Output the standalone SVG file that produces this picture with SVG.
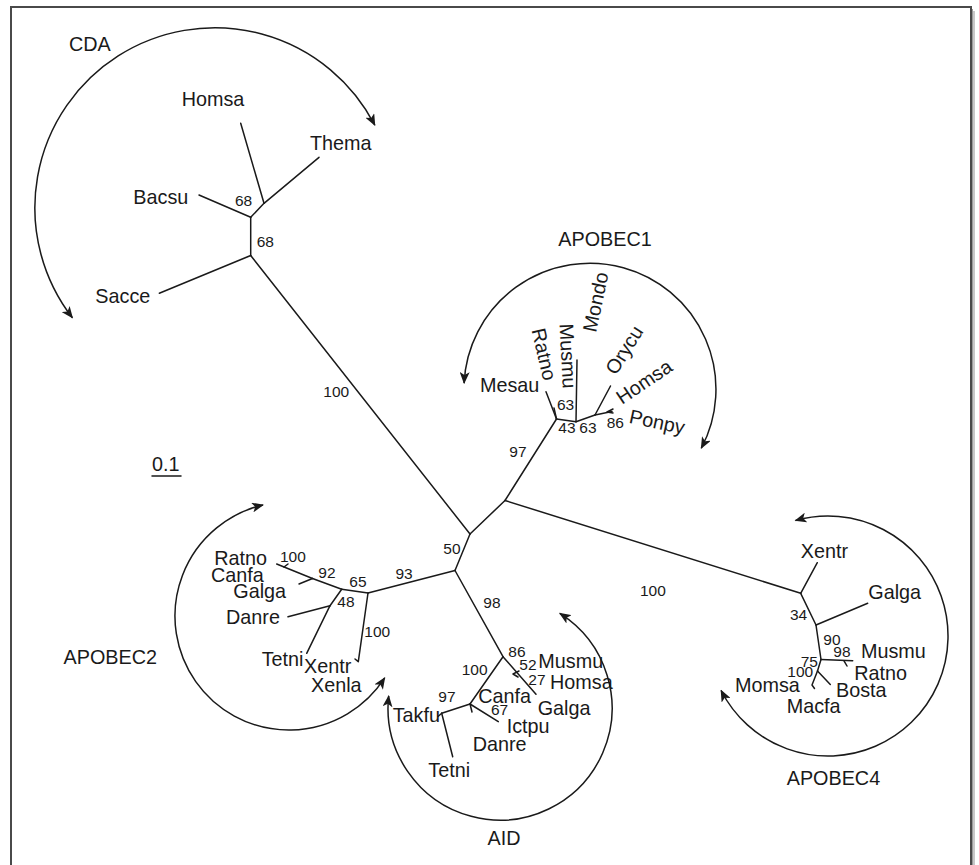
<svg xmlns="http://www.w3.org/2000/svg" width="979" height="865" viewBox="0 0 979 865">
<defs>
<marker id="ah" viewBox="0 0 12 10" refX="11" refY="5" markerWidth="12" markerHeight="10" markerUnits="userSpaceOnUse" orient="auto-start-reverse">
<path d="M0,0 L12,5 L0,10 L3,5 z" fill="#1a1a1a"/>
</marker>
<style>
.br{stroke:#1a1a1a;stroke-width:1.5;fill:none;stroke-linecap:round;stroke-linejoin:round}
.arc{stroke:#1a1a1a;stroke-width:1.5;fill:none;marker-start:url(#ah);marker-end:url(#ah)}
text{font-family:"Liberation Sans",Arial,sans-serif;fill:#1a1a1a}
.lf{font-size:19.8px}
.cl{font-size:19.8px}
.bs{font-size:15.5px}
</style>
</defs>
<rect x="0" y="0" width="979" height="865" fill="#ffffff"/>
<rect x="15" y="11" width="960" height="870" fill="#c8c8c8"/>
<rect x="13" y="9" width="960" height="870" fill="#9a9a9a"/>
<rect x="11" y="7" width="960" height="870" fill="#ffffff" stroke="#4a4a4a" stroke-width="2"/>

<g id="connectors">
<g id="branches" class="br">
<!-- CDA -->
<path d="M250.7,255.5 L470,534"/>
<path d="M250.7,255.5 L250.7,217.3"/>
<path d="M250.7,255.5 L159.3,293.3"/>
<path d="M250.7,217.3 L264,203.3"/>
<path d="M250.7,217.3 L199,195"/>
<path d="M264,203.3 L240.7,123.3"/>
<path d="M264,203.3 L319,157.3"/>
<!-- centre -->
<path d="M470,534 L505,500.5"/>
<path d="M470,534 L455,570.5"/>
<path d="M505,500.5 L556.5,419"/>
<path d="M505,500.5 L800.7,593.3"/>
<path d="M455,570.5 L368,593"/>
<path d="M455,570.5 L503,656.7"/>
<!-- APOBEC1 -->
<path d="M556.5,419 L546,391.7"/>
<path d="M556.5,419 L554,408"/>
<path d="M556.5,419 L576,421.7"/>
<path d="M576,421.7 L577,360"/>
<path d="M576,421.7 L595,415"/>
<path d="M595,415 L610.5,386"/>
<path d="M595,415 L612,411.5"/>
<path d="M607,412 L613,409 M607,412 L613,413"/>
<!-- APOBEC2 -->
<path d="M368,593 L341.7,589.3"/>
<path d="M368,593 L358.3,661.7 L355,659"/>
<path d="M341.7,589.3 L312.5,578.5"/>
<path d="M312.5,578.5 L276.7,564"/>
<path d="M284,567 L288,564"/>
<path d="M312.5,578.5 L299,584"/>
<path d="M341.7,589.3 L330,605.7"/>
<path d="M330,605.7 L288,616.7"/>
<path d="M330,605.7 L306.7,653.3"/>
<!-- AID -->
<path d="M503,656.7 L536,694.3"/>
<path d="M519,671 L513,674 L518,677"/>
<path d="M503,656.7 L470,704"/>
<path d="M470,704 L441.7,713.3"/>
<path d="M441.7,713.3 L452.7,756.7"/>
<path d="M441.7,713.3 L438,716.5"/>
<path d="M470,704 L498.3,721.7"/>
<path d="M470,704 L472,712"/>
<!-- APOBEC4 -->
<path d="M800.7,593.3 L817.3,562.7"/>
<path d="M800.7,593.3 L816,625"/>
<path d="M816,625 L867.7,603.3"/>
<path d="M816,625 L821,659.5"/>
<path d="M821,659.5 L852.7,660.7"/>
<path d="M844,660.8 L847,666"/>
<path d="M821,659.5 L817.5,671"/>
<path d="M817.5,671 L830.3,684.5"/>
<path d="M817.5,671 L812,685 L814.5,688.5"/>
</g>
<g id="arcs" class="arc">
<path d="M374.8,125.2 A180,180 0 1 0 72.4,317.8"/>
<path d="M464.1,383.1 A126,126 0 1 1 701.3,448.2"/>
<path d="M263,505 A114,114 0 1 0 384.7,677.9"/>
<path d="M388.7,695.9 A112,112 0 1 0 559.8,613.4"/>
<path d="M795.5,520.5 A120,120 0 1 1 721.1,690.5"/>
</g>
</g>

<g id="scale">
<text class="lf" x="152" y="471">0.1</text>
<path class="br" d="M152,476 L181,476"/>
</g>

<g id="clade-CDA">
<text class="cl" x="69" y="50.5">CDA</text>
<g id="cda-homsa"><text class="lf" x="181.7" y="106">Homsa</text></g>
<g id="cda-thema"><text class="lf" x="310" y="150">Thema</text></g>
<g id="cda-bacsu"><text class="lf" x="133.3" y="204">Bacsu</text></g>
<g id="cda-sacce"><text class="lf" x="95.3" y="302.5">Sacce</text></g>
<text class="bs" x="235" y="206">68</text>
<text class="bs" x="256.7" y="246.5">68</text>
</g>

<g id="clade-APOBEC1">
<text class="cl" x="558.3" y="246">APOBEC1</text>
<g id="a1-mesau"><text class="lf" x="480" y="391.7">Mesau</text></g>
<g id="a1-ratno"><text class="lf" transform="translate(531.5,330) rotate(77)">Ratno</text></g>
<g id="a1-musmu"><text class="lf" transform="translate(559.5,324) rotate(87)">Musmu</text></g>
<g id="a1-mondo"><text class="lf" transform="translate(596,333) rotate(-78)">Mondo</text></g>
<g id="a1-orycu"><text class="lf" transform="translate(616,376) rotate(-58)">Orycu</text></g>
<g id="a1-homsa"><text class="lf" transform="translate(622,405) rotate(-34)">Homsa</text></g>
<g id="a1-ponpy"><text class="lf" transform="translate(628.3,422.7) rotate(12)">Ponpy</text></g>
<text class="bs" x="557" y="409.5">63</text>
<text class="bs" x="558.3" y="433.3">43</text>
<text class="bs" x="579.3" y="433.3">63</text>
<text class="bs" x="606.7" y="428.3">86</text>
<text class="bs" x="509.3" y="456.7">97</text>
</g>

<g id="centre-labels">
<text class="bs" x="323.3" y="396.7">100</text>
<text class="bs" x="443.3" y="554">50</text>
<text class="bs" x="395.5" y="579">93</text>
<text class="bs" x="483.3" y="608.3">98</text>
<text class="bs" x="640" y="596">100</text>
</g>

<g id="clade-APOBEC2">
<text class="cl" x="157" y="664" text-anchor="end">APOBEC2</text>
<g id="a2-ratno"><text class="lf" x="214.3" y="565">Ratno</text></g>
<g id="a2-canfa"><text class="lf" x="211" y="581.7">Canfa</text></g>
<g id="a2-galga"><text class="lf" x="233.3" y="598.3">Galga</text></g>
<g id="a2-danre"><text class="lf" x="226" y="624">Danre</text></g>
<g id="a2-tetni"><text class="lf" x="261.7" y="666">Tetni</text></g>
<g id="a2-xentr"><text class="lf" x="304" y="673.3">Xentr</text></g>
<g id="a2-xenla"><text class="lf" x="311" y="691.7">Xenla</text></g>
<text class="bs" x="280" y="561.7">100</text>
<text class="bs" x="318.3" y="578.3">92</text>
<text class="bs" x="349.3" y="586.7">65</text>
<text class="bs" x="337.3" y="606.7">48</text>
<text class="bs" x="364.3" y="636.7">100</text>
</g>

<g id="clade-AID">
<text class="cl" x="487.5" y="845">AID</text>
<g id="aid-musmu"><text class="lf" x="538.3" y="668.3">Musmu</text></g>
<g id="aid-homsa"><text class="lf" x="550" y="689.3">Homsa</text></g>
<g id="aid-canfa"><text class="lf" x="478.3" y="702.7">Canfa</text></g>
<g id="aid-galga"><text class="lf" x="537.7" y="715">Galga</text></g>
<g id="aid-takfu"><text class="lf" x="392.7" y="721.7">Takfu</text></g>
<g id="aid-ictpu"><text class="lf" x="506.7" y="733.3">Ictpu</text></g>
<g id="aid-danre"><text class="lf" x="472.7" y="750.7">Danre</text></g>
<g id="aid-tetni"><text class="lf" x="428.3" y="776.7">Tetni</text></g>
<text class="bs" x="508.3" y="656.7">86</text>
<text class="bs" x="519.3" y="670">52</text>
<text class="bs" x="528.3" y="685">27</text>
<text class="bs" x="461.7" y="675">100</text>
<text class="bs" x="438.3" y="701.7">97</text>
<text class="bs" x="491" y="715">67</text>
</g>

<g id="clade-APOBEC4">
<text class="cl" x="786.7" y="785">APOBEC4</text>
<g id="a4-xentr"><text class="lf" x="800.7" y="558.3">Xentr</text></g>
<g id="a4-galga"><text class="lf" x="868.3" y="599.3">Galga</text></g>
<g id="a4-musmu"><text class="lf" x="861" y="658.3">Musmu</text></g>
<g id="a4-ratno"><text class="lf" x="854.3" y="680">Ratno</text></g>
<g id="a4-momsa"><text class="lf" x="735" y="691.7">Momsa</text></g>
<g id="a4-bosta"><text class="lf" x="836" y="696.7">Bosta</text></g>
<g id="a4-macfa"><text class="lf" x="786.7" y="713.3">Macfa</text></g>
<text class="bs" x="790" y="620">34</text>
<text class="bs" x="823.3" y="645">90</text>
<text class="bs" x="833.3" y="656.7">98</text>
<text class="bs" x="800.7" y="666.7">75</text>
<text class="bs" x="787.3" y="676.7">100</text>
</g>
</svg>
